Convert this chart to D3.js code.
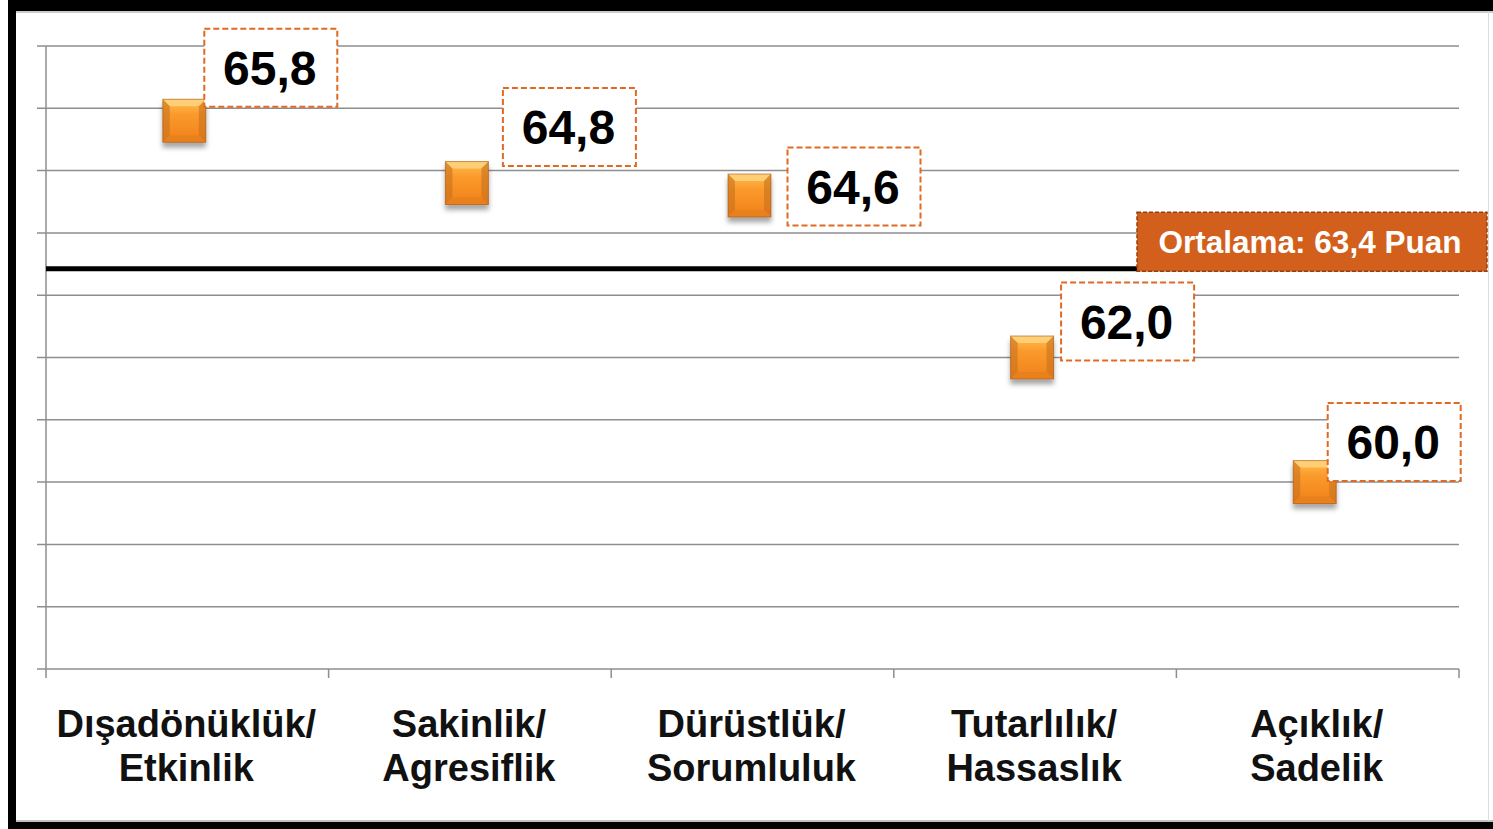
<!DOCTYPE html>
<html>
<head>
<meta charset="utf-8">
<script src="https://cdn.jsdelivr.net/npm/d3@7"></script>
<style>
  html, body { margin: 0; padding: 0; background: #fff; }
  svg { display: block; }
</style>
</head>
<body>
<svg id="chart"></svg>
<script>
// data
var categories = ['Dışadönüklük/Etkinlik', 'Sakinlik/Agresiflik', 'Dürüstlük/Sorumluluk', 'Tutarlılık/Hassaslık', 'Açıklık/Sadelik'];
var scores = [65.8, 64.8, 64.6, 62.0, 60.0];
var meanScore = 63.4;
var meanLabel = 'Ortalama: 63,4 Puan';
var yTicks = [57, 58, 59, 60, 61, 62, 63, 64, 65, 66, 67];

// hand placed label boxes (offset of box corner from marker centre)
var labelOffsets = [[20, -92], [36, -95], [38, -48], [29, -75], [13, -79]];

var W = 1493, H = 829;
var plot = {left: 46, right: 1459, top: 46, bottom: 669};
var orange = '#e06a22';
var fmt = d3.formatLocale({decimal: ',', thousands: '.', grouping: [3], currency: ['', '']}).format('.1f');

var svg = d3.select('#chart').attr('width', W).attr('height', H);

// frame
svg.append('rect').attr('x', 8).attr('y', 0).attr('width', W - 8).attr('height', H).attr('fill', '#000');
svg.append('rect').attr('x', 16).attr('y', 11).attr('width', W - 16).attr('height', 811).attr('fill', '#fff');
svg.append('line').attr('x1', 16).attr('x2', W).attr('y1', 12).attr('y2', 12).attr('stroke', '#bbb').attr('stroke-width', 1.5);
svg.append('line').attr('x1', 16).attr('x2', W).attr('y1', 821).attr('y2', 821).attr('stroke', '#aaa').attr('stroke-width', 1.5);
svg.append('line').attr('x1', 1488.5).attr('x2', 1488.5).attr('y1', 12).attr('y2', 821).attr('stroke', '#ddd').attr('stroke-width', 1);

var defs = svg.append('defs');
var shadow = defs.append('filter').attr('id', 'shadow')
    .attr('x', '-30%').attr('y', '-30%').attr('width', '160%').attr('height', '170%');
shadow.append('feDropShadow').attr('dx', 0).attr('dy', 5).attr('stdDeviation', 2.5)
    .attr('flood-color', '#000').attr('flood-opacity', 0.35);

var gTop = defs.append('linearGradient').attr('id', 'mkface').attr('x1', 0).attr('y1', 0).attr('x2', 0).attr('y2', 1);
gTop.append('stop').attr('offset', '0%').attr('stop-color', '#ffbf52');
gTop.append('stop').attr('offset', '35%').attr('stop-color', '#fb9a2c');
gTop.append('stop').attr('offset', '100%').attr('stop-color', '#f0801a');

// scales
var x = d3.scaleBand().domain(categories).range([plot.left, plot.right]);
var y = d3.scaleLinear().domain([57, 67]).range([plot.bottom, plot.top]);

// grid
svg.append('g').selectAll('line').data(yTicks).join('line')
    .attr('x1', plot.left - 9).attr('x2', plot.right)
    .attr('y1', function(d) { return y(d); }).attr('y2', function(d) { return y(d); })
    .attr('stroke', '#8e8e8e').attr('stroke-width', 1.5);

// y axis line
svg.append('line').attr('x1', plot.left).attr('x2', plot.left)
    .attr('y1', plot.top).attr('y2', plot.bottom)
    .attr('stroke', '#8e8e8e').attr('stroke-width', 1.5);

// x axis ticks at band edges
var edges = categories.map(function(c) { return x(c); }).concat([x.range()[1]]);
svg.append('g').selectAll('line').data(edges).join('line')
    .attr('x1', function(d) { return d; }).attr('x2', function(d) { return d; })
    .attr('y1', plot.bottom).attr('y2', plot.bottom + 9)
    .attr('stroke', '#8e8e8e').attr('stroke-width', 1.5);

// category labels
var xl = svg.append('g').selectAll('text').data(categories).join('text')
    .attr('text-anchor', 'middle')
    .attr('font-family', 'Liberation Sans, Arial, sans-serif')
    .attr('font-weight', 'bold')
    .attr('font-size', 38)
    .attr('fill', '#111');
xl.each(function(d) {
    var cx = x(d) + x.bandwidth() / 2 - 1;
    var parts = d.split('/');
    var t = d3.select(this);
    t.append('tspan').attr('x', cx).attr('y', 737).text(parts[0] + '/');
    t.append('tspan').attr('x', cx).attr('y', 781).text(parts[1]);
});

// mean line
svg.append('line').attr('x1', plot.left).attr('x2', 1487)
    .attr('y1', y(meanScore) - 1.5).attr('y2', y(meanScore) - 1.5)
    .attr('stroke', '#000').attr('stroke-width', 5);

// mean label box
var mBox = {w: 350, h: 59};
var my = y(meanScore) + 1 - mBox.h;
svg.append('rect').attr('x', 1487 - mBox.w).attr('y', my)
    .attr('width', mBox.w).attr('height', mBox.h)
    .attr('fill', '#d2601c').attr('stroke', '#9a3d0c').attr('stroke-width', 1.5)
    .attr('stroke-dasharray', '4,2');
svg.append('text').attr('x', 1487 - mBox.w / 2 - 2).attr('y', my + 41)
    .attr('text-anchor', 'middle')
    .attr('font-family', 'Liberation Sans, Arial, sans-serif')
    .attr('font-weight', 'bold').attr('font-size', 31.5)
    .attr('fill', '#fff').text(meanLabel);

// markers
var ms = 43, bev = 7;
var pts = svg.append('g').selectAll('g').data(scores).join('g')
    .attr('transform', function(d, i) {
        return 'translate(' + (x(categories[i]) + x.bandwidth() / 2 - 3) + ',' + y(d) + ')';
    });
var mk = pts.append('g').attr('filter', 'url(#shadow)');
mk.append('rect').attr('x', -ms / 2).attr('y', -ms / 2).attr('width', ms).attr('height', ms)
    .attr('fill', 'url(#mkface)');
var h = ms / 2;
// bevel edges
mk.append('path').attr('d', 'M' + (-h) + ',' + (-h) + 'L' + h + ',' + (-h) + 'L' + (h - bev) + ',' + (-h + bev) + 'L' + (-h + bev) + ',' + (-h + bev) + 'Z')
    .attr('fill', '#ffd27a').attr('opacity', 0.9);
mk.append('path').attr('d', 'M' + (-h) + ',' + (-h) + 'L' + (-h + bev) + ',' + (-h + bev) + 'L' + (-h + bev) + ',' + (h - bev) + 'L' + (-h) + ',' + h + 'Z')
    .attr('fill', '#c8711e').attr('opacity', 0.6);
mk.append('path').attr('d', 'M' + h + ',' + (-h) + 'L' + (h - bev) + ',' + (-h + bev) + 'L' + (h - bev) + ',' + (h - bev) + 'L' + h + ',' + h + 'Z')
    .attr('fill', '#c8711e').attr('opacity', 0.6);
mk.append('path').attr('d', 'M' + (-h) + ',' + h + 'L' + (-h + bev) + ',' + (h - bev) + 'L' + (h - bev) + ',' + (h - bev) + 'L' + h + ',' + h + 'Z')
    .attr('fill', '#e8801e');
mk.append('rect').attr('x', -h).attr('y', -h).attr('width', ms).attr('height', ms)
    .attr('fill', 'none').attr('stroke', '#a0561a').attr('stroke-width', 1).attr('opacity', 0.6);

// value labels
var bw = 133, bh = 78;
pts.each(function(d, i) {
    var g = d3.select(this);
    var ox = labelOffsets[i][0], oy = labelOffsets[i][1];
    g.append('rect').attr('x', ox).attr('y', oy).attr('width', bw).attr('height', bh)
        .attr('fill', '#fff').attr('stroke', orange).attr('stroke-width', 2)
        .attr('stroke-dasharray', '6,3');
    g.append('text').attr('x', ox + bw / 2 - 1).attr('y', oy + bh / 2 + 17)
        .attr('text-anchor', 'middle')
        .attr('font-family', 'Liberation Sans, Arial, sans-serif')
        .attr('font-weight', 'bold').attr('font-size', 48)
        .attr('fill', '#000').text(fmt(d));
});
</script>
</body>
</html>
